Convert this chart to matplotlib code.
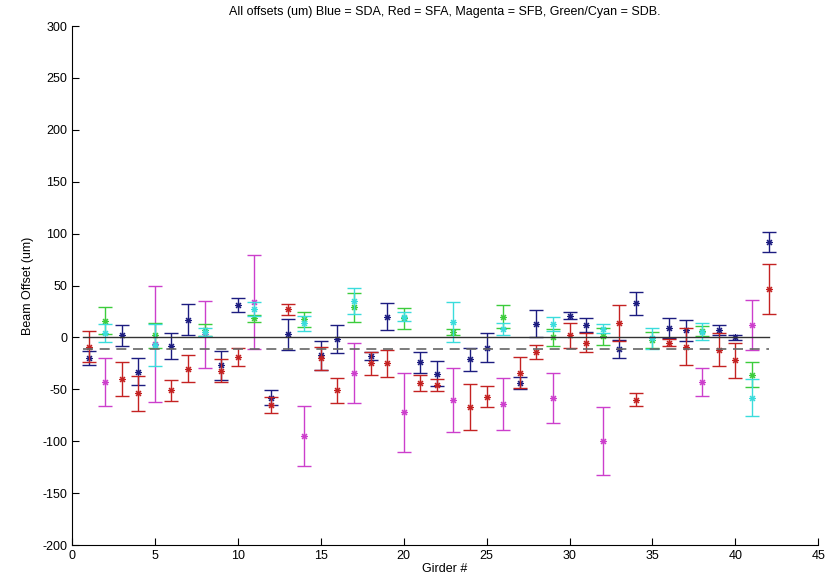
import matplotlib
matplotlib.use("Agg")
import matplotlib.pyplot as plt
import numpy as np

plt.rcParams['font.family'] = ['Liberation Sans', 'DejaVu Sans']
plt.rcParams['axes.unicode_minus'] = False

# ── data (um) ─────────────────────────────────────────────────────────────────
sda_girder = [1, 3, 4, 6, 7, 9, 10, 12, 13, 15, 16, 18, 19, 21, 22, 24, 25, 27,
              28, 30, 31, 33, 34, 36, 37, 39, 40, 42]
sda_off    = [-20, 2, -33, -8, 17, -27, 31, -58, 3, -17, -2, -18, 20, -24, -35,
              -21, -10, -44, 13, 21, 12, -11, 33, 9, 7, 7, 0, 92]
sda_err    = [7, 10, 13, 12.5, 15, 14, 6.5, 7, 15, 14, 13.5, 4, 13, 10, 12, 11,
              14, 5.5, 13, 3.5, 7, 8.5, 11, 10, 10, 5, 2.5, 10]

sfa_girder = [1, 3, 4, 6, 7, 9, 10, 12, 13, 15, 16, 18, 19, 21, 22, 24, 25, 27,
              28, 30, 31, 33, 34, 36, 37, 39, 40, 42]
sfa_off    = [-9, -40, -54, -51, -30, -32, -19, -65, 27, -20, -51, -25, -25, -44,
              -46, -67, -57, -34, -14, 2, -5, 14, -60, -5, -9, -12, -22, 47]
sfa_err    = [15, 16, 17, 10, 13, 11, 8.5, 8, 5, 11, 12, 11, 13, 7.5, 6, 22, 10,
              15, 7, 12, 9, 17, 6.5, 3, 18, 16, 17, 24]

sfb_girder = [2, 5, 8, 11, 14, 17, 20, 23, 26, 29, 32, 38, 41]
sfb_off    = [-43, -6, 3, 34, -95, -34, -72, -60, -64, -58, -100, -43, 12]
sfb_err    = [23, 56, 32, 45, 29, 29, 38, 31, 25, 24, 33, 13.5, 24]

sdb_g_girder = [2, 5, 8, 11, 14, 17, 20, 23, 26, 29, 32, 35, 38, 41]
sdb_g_off    = [16, 2, 7, 18.5, 17.5, 29, 18.5, 5.5, 20, 0, 1, -2.6, 6, -36]
sdb_g_err    = [13, 12, 6, 3.5, 7, 14, 10, 3, 11, 8, 8, 8, 5, 12]

sdb_c_girder = [2, 5, 8, 11, 14, 17, 20, 23, 26, 29, 32, 35, 38, 41]
sdb_c_off    = [4.5, -7.5, 5.5, 27.5, 13.6, 35, 20, 15, 8, 13, 8.5, -1, 5.5, -58]
sdb_c_err    = [8.5, 20, 4, 6.5, 7, 12.5, 4.5, 19, 5.5, 6.5, 4, 10.5, 8, 17.5]

mean_offset = -11
line_x = [0.65, 42]

# ── plot ──────────────────────────────────────────────────────────────────────
fig = plt.figure(figsize=(8.35, 5.74), dpi=100)
ax = fig.add_axes([0.0862, 0.0505, 0.8938, 0.9042])

series = [
    (sda_girder, sda_off, sda_err, "#1c1c80"),
    (sfa_girder, sfa_off, sfa_err, "#c42222"),
    (sfb_girder, sfb_off, sfb_err, "#cc3fcc"),
    (sdb_g_girder, sdb_g_off, sdb_g_err, "#3ccc3c"),
    (sdb_c_girder, sdb_c_off, sdb_c_err, "#3adcdc"),
]
for g, v, e, c in series:
    ax.errorbar(g, v, yerr=e, fmt="none", ecolor=c, elinewidth=1.0,
                capsize=5, capthick=1.0)
    ax.plot(g, v, ls="none", marker=(8, 2, 0), ms=5, mew=0.8, color=c)

ax.plot(line_x, [0, 0], color="#333333", lw=1.0)
ax.plot(line_x, [mean_offset, mean_offset], color="#666666", lw=1.2,
        dashes=(6, 4))

ax.set_xlim(0, 45)
ax.set_ylim(-200, 300)
ax.set_xticks(np.arange(0, 46, 5))
ax.set_yticks(np.arange(-200, 301, 50))
ax.spines["top"].set_visible(False)
ax.spines["right"].set_visible(False)
ax.tick_params(direction="in", length=5, labelsize=9, width=0.8)
ax.set_xlabel("Girder #", fontsize=9, labelpad=1)
ax.set_ylabel("Beam Offset (um)", fontsize=9, labelpad=6)
fig.text(0.533, 0.979, "All offsets (um) Blue = SDA, Red = SFA, Magenta = SFB, "
         "Green/Cyan = SDB.", ha="center", va="center", fontsize=9)

plt.savefig("out.png", dpi=100)
plt.close()
